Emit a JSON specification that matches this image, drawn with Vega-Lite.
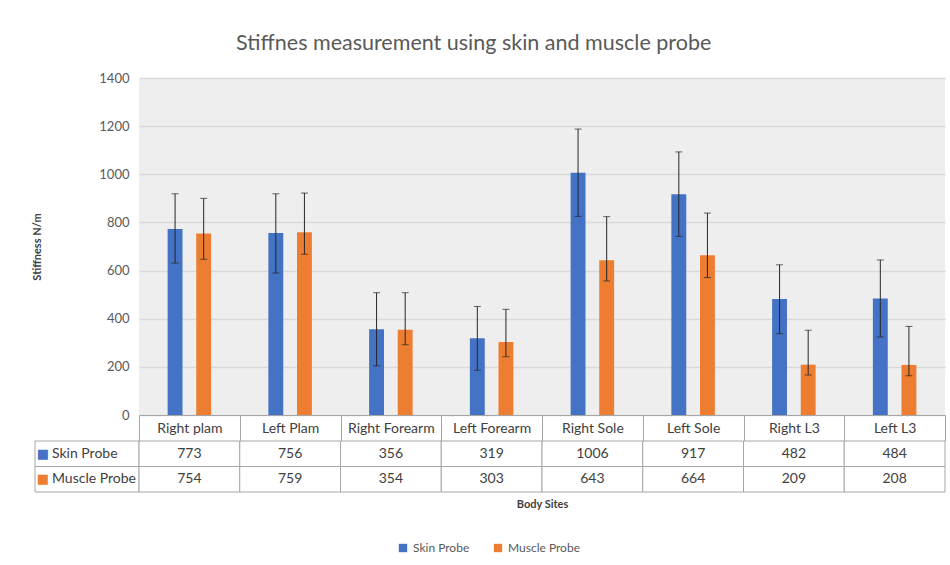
{
  "$schema": "https://vega.github.io/schema/vega-lite/v6.json",
  "background": "white",
  "padding": {"left": 31, "top": 32, "right": 4, "bottom": 5},
  "title": {"text": "Stiffnes measurement using skin and muscle probe", "fontSize": 21.5, "font": "Lato", "fontWeight": "normal", "color": "#595959", "anchor": "middle", "offset": 18, "dx": -15},
  "datasets": {
    "stiff": [
      {"site": "Right plam", "probe": "Skin Probe", "value": 773, "lower": 631, "upper": 919},
      {"site": "Right plam", "probe": "Muscle Probe", "value": 754, "lower": 647, "upper": 900},
      {"site": "Left Plam", "probe": "Skin Probe", "value": 756, "lower": 590, "upper": 919},
      {"site": "Left Plam", "probe": "Muscle Probe", "value": 759, "lower": 668, "upper": 922},
      {"site": "Right Forearm", "probe": "Skin Probe", "value": 356, "lower": 204, "upper": 508},
      {"site": "Right Forearm", "probe": "Muscle Probe", "value": 354, "lower": 292, "upper": 508},
      {"site": "Left Forearm", "probe": "Skin Probe", "value": 319, "lower": 186, "upper": 451},
      {"site": "Left Forearm", "probe": "Muscle Probe", "value": 303, "lower": 242, "upper": 439},
      {"site": "Right Sole", "probe": "Skin Probe", "value": 1006, "lower": 825, "upper": 1188},
      {"site": "Right Sole", "probe": "Muscle Probe", "value": 643, "lower": 557, "upper": 824},
      {"site": "Left Sole", "probe": "Skin Probe", "value": 917, "lower": 742, "upper": 1093},
      {"site": "Left Sole", "probe": "Muscle Probe", "value": 664, "lower": 571, "upper": 839},
      {"site": "Right L3", "probe": "Skin Probe", "value": 482, "lower": 338, "upper": 624},
      {"site": "Right L3", "probe": "Muscle Probe", "value": 209, "lower": 166, "upper": 352},
      {"site": "Left L3", "probe": "Skin Probe", "value": 484, "lower": 324, "upper": 644},
      {"site": "Left L3", "probe": "Muscle Probe", "value": 208, "lower": 163, "upper": 368}
    ],
    "probes": [
      {"probe": "Skin Probe"},
      {"probe": "Muscle Probe"}
    ]
  },
  "columns": 2,
  "spacing": {"row": 26, "column": 0},
  "bounds": "flush",
  "concat": [
    {
      "width": 104, "height": 337,
      "data": {"values": []},
      "mark": "point",
      "encoding": {}
    },
    {
      "width": 806, "height": 337,
      "view": {"fill": "#eeeeee", "stroke": null},
      "data": {"name": "stiff"},
      "encoding": {
        "x": {"field": "site", "type": "nominal",
          "sort": ["Right plam", "Left Plam", "Right Forearm", "Left Forearm", "Right Sole", "Left Sole", "Right L3", "Left L3"],
          "scale": {"paddingInner": 0, "paddingOuter": 0},
          "axis": {"title": null, "labelAngle": 0, "labelFontSize": 14, "labelFont": "Lato", "labelColor": "#404040", "labelPadding": -20,
            "tickBand": "extent", "tickSize": 26, "tickColor": "#a6a6a6", "tickWidth": 1, "domainColor": "#a6a6a6", "domainWidth": 1}},
        "xOffset": {"field": "probe", "type": "nominal", "sort": ["Skin Probe", "Muscle Probe"],
          "scale": {"paddingInner": 0.48, "paddingOuter": 1.26}}
      },
      "layer": [
        {
          "mark": {"type": "bar"},
          "encoding": {
            "y": {"field": "value", "type": "quantitative", "scale": {"domain": [0, 1400]},
              "axis": {"values": [0, 200, 400, 600, 800, 1000, 1200, 1400], "format": "d", "grid": true, "gridColor": "#d9d9d9", "gridWidth": 1.5,
                "domain": false, "ticks": false, "labelColor": "#595959", "labelFontSize": 13, "labelFont": "Lato", "labelPadding": 10,
                "title": "Stiffness N/m", "titleFontSize": 11, "titleFont": "Lato", "titleFontWeight": "bold", "titleColor": "#404040", "titlePadding": 56}},
            "color": {"field": "probe", "type": "nominal",
              "scale": {"domain": ["Skin Probe", "Muscle Probe"], "range": ["#4472C4", "#ED7D31"]},
              "legend": {"title": null, "orient": "bottom", "direction": "horizontal", "symbolType": "square", "symbolSize": 70,
                "labelFontSize": 12, "labelFont": "Lato", "labelColor": "#595959", "columnPadding": 22, "offset": 33}}
          }
        },
        {
          "mark": {"type": "rule", "color": "#262626", "strokeWidth": 1},
          "encoding": {
            "y": {"field": "lower", "type": "quantitative", "title": "Stiffness N/m"},
            "y2": {"field": "upper"}
          }
        },
        {
          "mark": {"type": "tick", "color": "#262626", "size": 7, "thickness": 1},
          "encoding": {"y": {"field": "lower", "type": "quantitative", "title": "Stiffness N/m"}}
        },
        {
          "mark": {"type": "tick", "color": "#262626", "size": 7, "thickness": 1},
          "encoding": {"y": {"field": "upper", "type": "quantitative", "title": "Stiffness N/m"}}
        }
      ]
    },
    {
      "width": 104, "height": 51,
      "data": {"name": "probes"},
      "encoding": {
        "y": {"field": "probe", "type": "nominal", "sort": ["Skin Probe", "Muscle Probe"], "axis": null,
          "scale": {"paddingInner": 0, "paddingOuter": 0}}
      },
      "layer": [
        {"mark": {"type": "rect", "fill": "white", "stroke": "#a6a6a6", "strokeWidth": 1}},
        {"mark": {"type": "text", "text": "■", "fontSize": 13, "font": "DejaVu Sans", "align": "center", "dx": -44},
          "encoding": {"color": {"field": "probe", "type": "nominal", "legend": null}}},
        {"mark": {"type": "text", "fontSize": 14, "font": "Lato", "color": "#404040", "align": "left", "dx": -35},
          "encoding": {"text": {"field": "probe", "type": "nominal"}}}
      ]
    },
    {
      "width": 806, "height": 51,
      "data": {"name": "stiff"},
      "encoding": {
        "x": {"field": "site", "type": "nominal",
          "sort": ["Right plam", "Left Plam", "Right Forearm", "Left Forearm", "Right Sole", "Left Sole", "Right L3", "Left L3"],
          "scale": {"paddingInner": 0, "paddingOuter": 0},
          "axis": {"labels": false, "ticks": false, "domain": false, "title": "Body Sites", "titleFontSize": 11, "titleFont": "Lato",
            "titleFontWeight": "bold", "titleColor": "#404040", "titlePadding": 6}},
        "y": {"field": "probe", "type": "nominal", "sort": ["Skin Probe", "Muscle Probe"], "axis": null,
          "scale": {"paddingInner": 0, "paddingOuter": 0}}
      },
      "layer": [
        {"mark": {"type": "rect", "fill": "white", "stroke": "#a6a6a6", "strokeWidth": 1}},
        {"mark": {"type": "text", "fontSize": 14, "font": "Lato", "color": "#404040"},
          "encoding": {"text": {"field": "value", "type": "quantitative"}}}
      ]
    }
  ],
  "config": {
    "view": {"stroke": null},
    "font": "Lato",
    "legend": {"layout": {"bottom": {"anchor": "middle"}}}
  }
}
